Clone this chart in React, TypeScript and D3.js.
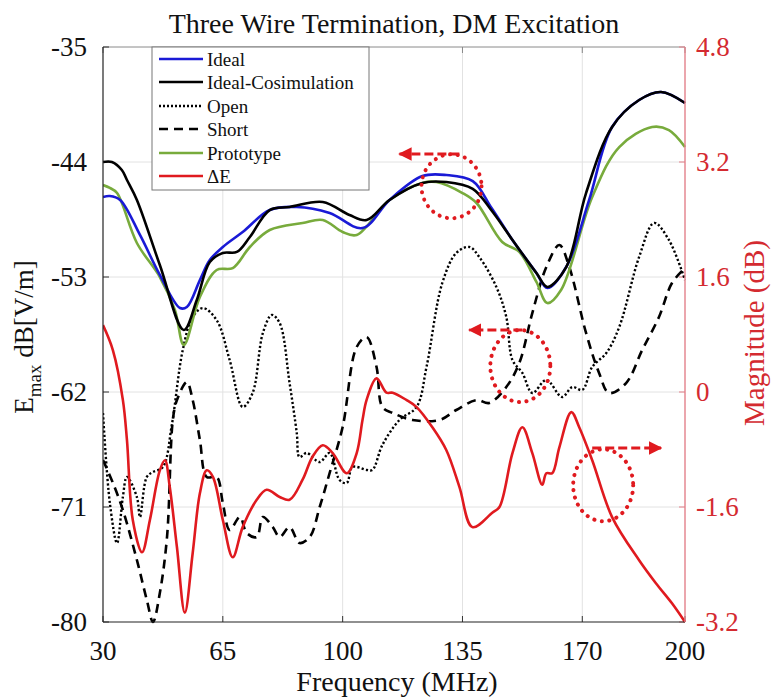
import React from 'react';
import * as d3 from 'd3';

// ---- Data ----
const xTicks = [30, 65, 100, 135, 170, 200];
const yLeftTicks = [-80, -71, -62, -53, -44, -35];
const yRightTicks = [-3.2, -1.6, 0, 1.6, 3.2, 4.8];

const idealF = [30, 32, 35, 40.8, 46.6, 52.5, 54.5, 58.3, 61.2, 65, 70.8, 78.7, 86.6, 96.2, 105.8, 113.7, 123.3, 130.3, 138, 143.5, 149.6, 156.6, 159.8, 165.3, 172, 178.7, 186.6, 193, 200];
const idealV = [-46.74, -46.66, -46.97, -49.71, -52.84, -55.43, -55.35, -53.24, -51.67, -50.65, -49.48, -47.76, -47.52, -47.99, -49.17, -46.97, -45.1, -45.02, -45.5, -47.6, -50.1, -52.69, -53.86, -52.22, -46.97, -41.26, -39.15, -38.52, -39.38];

const cosimF = [30, 32.6, 35.5, 37, 39.9, 46.6, 53.6, 57.4, 61.2, 65, 69.1, 72.9, 78.7, 84.5, 94.2, 102, 107, 113.7, 123.3, 130.3, 138, 143.5, 149.6, 156.6, 159.8, 165.3, 171.1, 178.7, 186.6, 193, 200];
const cosimV = [-44, -44, -44.63, -45.41, -46.97, -52.06, -57.15, -54.8, -51.83, -51.12, -51.04, -49.87, -47.76, -47.52, -47.13, -48.15, -48.54, -46.97, -45.64, -45.57, -46.1, -47.8, -50.1, -52.69, -53.78, -52.22, -46.43, -41.26, -39.15, -38.52, -39.38];

const openF = [30, 32, 34.1, 35.8, 37, 39.9, 40.8, 42.8, 44.6, 47.5, 50.1, 53.3, 56.2, 59.2, 63.2, 67, 70.8, 73.7, 76.7, 79.3, 81.6, 84.5, 86.6, 87.4, 89.5, 93.3, 96.2, 99.1, 101.2, 102.9, 107, 108.7, 111.6, 116.6, 121.6, 124.5, 129.1, 133.2, 137, 139.9, 144.9, 147.8, 149.6, 152.5, 155.4, 159.5, 164.1, 167.1, 170, 172.9, 177, 180.8, 186.6, 191, 195.3, 200];
const openV = [-63.64, -70.69, -73.82, -70.22, -68.65, -70.22, -71.78, -68.65, -68.26, -67.87, -64.58, -58.71, -56.13, -55.43, -56.37, -59.5, -63.17, -62.08, -57.38, -55.97, -56.6, -61.3, -65.21, -67.09, -66.77, -67.48, -66.77, -68.89, -69.12, -67.87, -68.1, -68.1, -66.15, -64.19, -63.17, -60.04, -53.47, -51.12, -50.65, -51.43, -53.78, -56.13, -59.5, -60.51, -62.08, -61.06, -62.39, -61.61, -61.84, -60.04, -58.95, -56.91, -51.43, -48.77, -50.1, -53.24];

const shortF = [30, 32.9, 35.8, 39.9, 42.8, 44.6, 46.6, 48.7, 50.4, 51.6, 54.5, 56.2, 58.3, 60.3, 63.2, 65, 67, 70, 72, 74.9, 76.7, 79.6, 81.6, 84.5, 87.4, 90.4, 93.3, 96.2, 100, 104.1, 107, 109.9, 111.6, 114.6, 120.4, 128.3, 133.2, 139.1, 142.8, 147.8, 151.6, 155.4, 159.5, 163.3, 166.2, 171.1, 174.9, 177.8, 182.8, 187.5, 192.4, 196.2, 200];
const shortV = [-67.32, -69.12, -71.23, -75.15, -78.28, -80, -77.73, -73.35, -64.19, -62.63, -61.22, -62.63, -65.76, -68.65, -68.65, -70.69, -72.8, -71.78, -73.04, -73.35, -71.78, -72.57, -73.35, -72.57, -73.82, -73.35, -71.0, -68.34, -64.74, -58.48, -57.7, -60.04, -63.17, -63.64, -64.19, -64.19, -63.41, -62.63, -62.86, -61.61, -59.73, -55.82, -52.22, -50.5, -52.22, -57.38, -60.51, -62.08, -61.3, -58.71, -56.13, -53.47, -52.3];

const protoF = [30, 32, 34.1, 39.9, 46.6, 51, 53.6, 58.3, 63.2, 67.9, 72.9, 78.7, 88.3, 94.2, 100, 104.1, 113.7, 123.3, 127.4, 135, 139.1, 146.6, 151.6, 156.6, 159.8, 163.8, 172.9, 180.8, 190.4, 195.3, 200];
const protoV = [-45.8, -46.03, -46.43, -50.34, -53, -55.58, -58.32, -54.57, -52.45, -52.3, -50.65, -49.32, -48.77, -48.54, -49.48, -49.71, -46.97, -45.64, -45.57, -46.43, -47.21, -50.26, -51.04, -53.39, -55.04, -54.02, -46.74, -42.83, -41.26, -41.5, -42.83];

const deltaF = [30, 32.9, 35.8, 37, 38.7, 41.4, 43.7, 46.6, 48.1, 49.5, 51.6, 53.9, 56.2, 58.3, 60.3, 62.1, 65, 67.9, 70.8, 74.9, 77.8, 81.6, 84.5, 88.3, 91.2, 94.2, 97.1, 101.2, 104.1, 105.8, 107, 109.9, 112.8, 114.6, 118.6, 121.6, 126.2, 130.3, 134.1, 137.9, 143.7, 145.8, 149.6, 152.5, 155.4, 158.3, 159.5, 161.2, 163.3, 166.8, 169.1, 172.9, 178.7, 186.6, 191.5, 196.2, 200];
const deltaM = [0.93, 0.58, -0.11, -0.67, -1.78, -2.23, -1.78, -1.09, -0.95, -1.32, -2.16, -3.07, -2.24, -1.41, -1.09, -1.18, -1.78, -2.3, -1.88, -1.5, -1.36, -1.46, -1.5, -1.22, -0.9, -0.74, -0.85, -1.13, -0.85, -0.39, -0.11, 0.19, -0.01, -0.01, -0.11, -0.21, -0.49, -0.81, -1.32, -1.88, -1.68, -1.6, -0.85, -0.49, -0.85, -1.29, -1.13, -1.13, -0.77, -0.28, -0.49, -0.95, -1.74, -2.34, -2.66, -2.94, -3.2];

// annotation circles: centre (MHz, left-axis dB)
const circleF = [131.8, 151.9, 176.1];
const circleV = [-45.9, -59.97, -69.3];
// annotation arrows: start/end frequency and left-axis level
const arrowF0 = [134.1, 152.5, 172.9];
const arrowF1 = [116.6, 137.0, 193.0];
const arrowV = [-43.37, -57.15, -66.38];

const legendLabels = ['Ideal', 'Ideal-Cosimulation', 'Open', 'Short', 'Prototype', '\u0394E'];

// ---- Layout / styles ----
const W = 775, H = 700;
const L = 103, R = 685, T = 47, B = 622;
const FONT = 'Liberation Serif';
const BLUE = '#1a1ad6';
const BLACK = '#000000';
const GREEN = '#78ab3c';
const RED = '#e01a1f';
const RED_TXT = '#d42a30';
const RED_AX = '#e3808a';

export default function App() {
  const x = d3.scaleLinear().domain([30, 200]).range([L, R]);
  const yL = d3.scaleLinear().domain([-80, -35]).range([B, T]);
  const yR = d3.scaleLinear().domain([-3.2, 4.8]).range([B, T]);

  const mk = (fs: number[], vs: number[], ys: d3.ScaleLinear<number, number>) =>
    d3.line<number>().x((_, i) => x(fs[i])).y((_, i) => ys(vs[i])).curve(d3.curveCatmullRom.alpha(0.5))(fs.map((_, i) => i)) || '';

  const series = [
    { d: mk(openF, openV, yL), color: BLACK, dash: '2.2 2.2', w: 2.4 },
    { d: mk(shortF, shortV, yL), color: BLACK, dash: '9 6', w: 2.6 },
    { d: mk(deltaF, deltaM, yR), color: RED, dash: undefined, w: 2.6 },
    { d: mk(protoF, protoV, yL), color: GREEN, dash: undefined, w: 2.6 },
    { d: mk(idealF, idealV, yL), color: BLUE, dash: undefined, w: 2.6 },
    { d: mk(cosimF, cosimV, yL), color: BLACK, dash: undefined, w: 2.6 },
  ];

  const legendStyles = [
    { color: BLUE, dash: undefined },
    { color: BLACK, dash: undefined },
    { color: BLACK, dash: '2 2' },
    { color: BLACK, dash: '9 6' },
    { color: GREEN, dash: undefined },
    { color: RED, dash: undefined },
  ];
  const legendY = [59, 82, 106, 129, 153, 176];
  const ts = { fontFamily: FONT } as React.CSSProperties;

  return (
    <svg width={W} height={H} style={{ position: 'absolute', left: 0, top: 0, background: '#fff' }}>
      <defs>
        <clipPath id="plot">
          <rect x={L} y={T - 2} width={R - L + 2} height={B - T + 4} />
        </clipPath>
        <marker id="ah" viewBox="0 0 10 10" refX="9" refY="5" markerWidth="4.5" markerHeight="4.5" orient="auto" markerUnits="strokeWidth">
          <path d="M0,0 L10,5 L0,10 z" fill={RED} />
        </marker>
      </defs>
      <rect x={0} y={0} width={W} height={H} fill="#fff" />
      {/* grid */}
      {xTicks.slice(1, -1).map((t) => (
        <line key={'gx' + t} x1={x(t)} x2={x(t)} y1={T} y2={B} stroke="#e2e2e2" strokeWidth={1} />
      ))}
      {yLeftTicks.slice(1, -1).map((t) => (
        <line key={'gy' + t} x1={L} x2={R} y1={yL(t)} y2={yL(t)} stroke="#e2e2e2" strokeWidth={1} />
      ))}
      {/* frame */}
      <line x1={L} x2={R} y1={T} y2={T} stroke="#8a8a8a" strokeWidth={1} />
      {xTicks.map((t) => (
        <g key={'tx' + t}>
          <line x1={x(t)} x2={x(t)} y1={B} y2={B - 6} stroke="#333" strokeWidth={1} />
          <line x1={x(t)} x2={x(t)} y1={T} y2={T + 6} stroke="#888" strokeWidth={1} />
          <text x={x(t)} y={B + 38} textAnchor="middle" style={ts} fontSize={27} fill="#111">{t}</text>
        </g>
      ))}
      {yLeftTicks.map((t) => (
        <g key={'tl' + t}>
          <line x1={L} x2={L + 6} y1={yL(t)} y2={yL(t)} stroke="#333" strokeWidth={1} />
          <text x={L - 16} y={yL(t) + 9} textAnchor="end" style={ts} fontSize={27} fill="#111">{t}</text>
        </g>
      ))}
      {yRightTicks.map((t) => (
        <g key={'tr' + t}>
          <line x1={R} x2={R - 6} y1={yR(t)} y2={yR(t)} stroke={RED_AX} strokeWidth={1} />
          <text x={R + 11} y={yR(t) + 9} textAnchor="start" style={ts} fontSize={27} fill={RED_TXT}>{t}</text>
        </g>
      ))}
      {/* series */}
      <g clipPath="url(#plot)">
        {series.map((s, i) => (
          <path key={i} d={s.d} fill="none" stroke={s.color} strokeWidth={s.w} strokeDasharray={s.dash} strokeLinejoin="round" />
        ))}
        {/* annotations */}
        {circleF.map((f, i) => (
          <ellipse key={'c' + i} cx={x(f)} cy={yL(circleV[i])} rx={30} ry={i === 0 ? 32 : 36} fill="none" stroke={RED} strokeWidth={4} strokeDasharray="0.1 7.5" strokeLinecap="round" />
        ))}
        {arrowF0.map((f, i) => (
          <line key={'a' + i} x1={x(f)} x2={x(arrowF1[i])} y1={yL(arrowV[i])} y2={yL(arrowV[i])} stroke={RED} strokeWidth={3} strokeDasharray="9 4" markerEnd="url(#ah)" />
        ))}
      </g>
      {/* axes lines */}
      <line x1={L} x2={L} y1={T} y2={B} stroke="#222" strokeWidth={1.2} />
      <line x1={L} x2={R} y1={B} y2={B} stroke="#222" strokeWidth={1.2} />
      <line x1={R} x2={R} y1={T} y2={B} stroke={RED_AX} strokeWidth={1.4} />
      {/* legend */}
      <rect x={152} y={T} width={217} height={143} fill="#fff" stroke="#777" strokeWidth={1} />
      {legendLabels.map((lab, i) => (
        <g key={'lg' + i}>
          <line x1={159} x2={203} y1={legendY[i]} y2={legendY[i]} stroke={legendStyles[i].color} strokeWidth={2.6} strokeDasharray={legendStyles[i].dash} />
          <text x={207} y={legendY[i] + 6.5} style={ts} fontSize={19} fill="#111">{lab}</text>
        </g>
      ))}
      {/* titles */}
      <text x={(L + R) / 2 + 0} y={33} textAnchor="middle" style={ts} fontSize={28} fill="#111">Three Wire Termination, DM Excitation</text>
      <text x={(L + R) / 2 + 3} y={691} textAnchor="middle" style={ts} fontSize={28} fill="#111">Frequency (MHz)</text>
      <text transform="translate(33,337) rotate(-90)" textAnchor="middle" style={ts} fontSize={27} fill="#111">
        E<tspan fontSize={19} dy={8}>max</tspan><tspan dy={-8}> dB[V/m]</tspan>
      </text>
      <text transform="translate(764,333) rotate(-90)" textAnchor="middle" style={ts} fontSize={29} fill={RED_TXT}>Magnitude (dB)</text>
    </svg>
  );
}
